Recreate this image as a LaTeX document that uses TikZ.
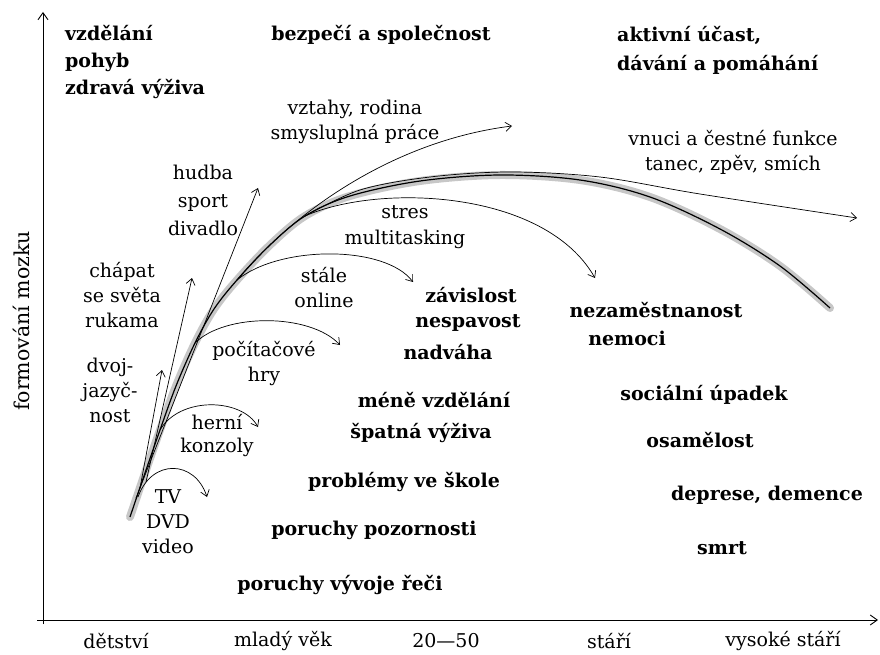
\documentclass[tikz,border=0pt]{standalone}
\usepackage{fontspec}
\setmainfont{DejaVu Serif}
\usetikzlibrary{arrows.meta}
\begin{document}
\begin{tikzpicture}[x=1pt,y=-1pt,
  txt/.style={font=\fontsize{19}{26}\selectfont, inner sep=0pt, align=center},
  btxt/.style={inner sep=0pt, align=center, font=\fontsize{19}{27}\selectfont\bfseries},
  arr/.style={-{Straight Barb[length=6pt,width=9pt]}, line width=0.7pt},
  axisline/.style={-{Straight Barb[length=7pt,width=10pt]}, line width=0.9pt},
  halo/.style={line width=8pt, black!22, line cap=round},
  mainline/.style={line width=1.2pt, black}]
\useasboundingbox (0,0) rectangle (880,655);
% axes
\coordinate (yb) at (43,624);
\coordinate (yt) at (43,12);
\coordinate (xl) at (37,620);
\coordinate (xr) at (878,620);
\draw[axisline] (yb) -- (yt);
\draw[axisline] (xl) -- (xr);
\node[txt, rotate=90, font=\fontsize{20.5}{26}\selectfont] (ylab) at (21,321) {formování mozku};
% x labels
\node[txt] (x1) at (116,641) {dětství};
\node[txt] (x2) at (283,641) {mladý věk};
\node[txt] (x3) at (446,641) {20—50};
\node[txt] (x4) at (609,641) {stáří};
\node[txt] (x5) at (783,641) {vysoké stáří};
% main curve points
\coordinate (m0) at (130,517);
\coordinate (m1) at (145,473);
\coordinate (m2) at (160,430);
\coordinate (m3) at (176,386);
\coordinate (m4) at (195,343);
\coordinate (m5) at (214,309);
\coordinate (m6) at (237,280);
\coordinate (m7) at (270,245);
\coordinate (m8) at (305,216);
\coordinate (m9) at (350,196);
\coordinate (m10) at (420,181);
\coordinate (m11) at (500,175);
\coordinate (m12) at (580,180);
\coordinate (m13) at (650,197);
\coordinate (m14) at (720,229);
\coordinate (m15) at (780,266);
\coordinate (m16) at (830,308);
\draw[halo] plot[smooth, tension=0.55] coordinates {(m0) (m1) (m2) (m3) (m4) (m5) (m6) (m7) (m8) (m9) (m10) (m11) (m12) (m13) (m14) (m15) (m16)};
\draw[mainline] plot[smooth, tension=0.55] coordinates {(m0) (m1) (m2) (m3) (m4) (m5) (m6) (m7) (m8) (m9) (m10) (m11) (m12) (m13) (m14) (m15) (m16)};
% vnuci curve (upper thin)
\coordinate (v1) at (360,190);
\coordinate (v2) at (430,177);
\coordinate (v3) at (510,172);
\coordinate (v4) at (600,177);
\coordinate (v5) at (700,194);
\coordinate (vt) at (857,218);
\draw[arr] plot[smooth, tension=0.55] coordinates {(m8) (v1) (v2) (v3) (v4) (v5) (vt)};
% vztahy arrow
\coordinate (zt) at (512,126);
\draw[arr] (m6) .. controls (300,205) and (400,140) .. (zt);
% straight arrows
\coordinate (s0) at (136,498);
\coordinate (dt) at (162,370);
\coordinate (ct) at (192,278);
\coordinate (ht) at (258,188);
\coordinate (ds) at (140,488);
\coordinate (cs) at (146,482);
\draw[arr] (ds) -- (dt);
\draw[arr] (cs) -- (ct);
\draw[arr] (s0) -- (ht);
% curved branches
\coordinate (tvs) at (138,497);
\coordinate (tvt) at (207,497);
\draw[arr] (tvs) .. controls (152,458) and (195,460) .. (tvt);
\coordinate (hkt) at (258,427);
\draw[arr] (m2) .. controls (180,396) and (242,398) .. (hkt);
\coordinate (pht) at (340,345);
\draw[arr] (m4) .. controls (225,313) and (310,313) .. (pht);
\coordinate (sot) at (413,282);
\draw[arr] (m6) .. controls (280,245) and (385,245) .. (sot);
\coordinate (stt) at (595,278);
\draw[arr] (m8) .. controls (380,183) and (545,190) .. (stt);
% top labels
\node[btxt, anchor=west, align=left] (tl) at (65,62) {vzdělání\\pohyb\\zdravá výživa};
\node[btxt] (tc) at (381,35) {bezpečí a společnost};
\node[btxt, anchor=west, align=left, font=\fontsize{19}{29}\selectfont\bfseries] (tr) at (617,50) {aktivní účast,\\dávání a pomáhání};
% thin labels
\node[txt, font=\fontsize{19}{25}\selectfont] (vz) at (355,122) {vztahy, rodina\\smysluplná práce};
\node[txt, font=\fontsize{19}{25}\selectfont] (vn) at (733,152) {vnuci a čestné funkce\\tanec, zpěv, smích};
\node[txt, font=\fontsize{19}{28}\selectfont] (hu) at (203,200) {hudba\\sport\\divadlo};
\node[txt] (st) at (405,227) {stres\\multitasking};
\node[txt, font=\fontsize{19}{25}\selectfont] (ch) at (122,295) {chápat\\se světa\\rukama};
\node[txt, font=\fontsize{19}{25}\selectfont] (so) at (324,288) {stále\\online};
\node[txt, font=\fontsize{19}{25}\selectfont] (dv) at (110,390) {dvoj-\\jazyč-\\nost};
\node[txt, font=\fontsize{19}{25}\selectfont] (pc) at (264,364) {počítačové\\hry};
\node[txt, font=\fontsize{19}{23}\selectfont] (hk) at (217,436) {herní\\konzoly};
\node[txt, font=\fontsize{19}{25}\selectfont] (tv) at (168,522) {TV\\DVD\\video};
% bold labels
\node[btxt] (za) at (471,295) {závislost};
\node[btxt] (ns) at (468,323) {nespavost};
\node[btxt] (nd) at (448,352) {nadváha};
\node[btxt] (ne) at (656,310) {nezaměstnanost};
\node[btxt] (nm) at (627,338) {nemoci};
\node[btxt] (me) at (434,400) {méně vzdělání};
\node[btxt] (sp) at (421,433) {špatná výživa};
\node[btxt] (pr) at (404,482) {problémy ve škole};
\node[btxt] (pp) at (374,530) {poruchy pozornosti};
\node[btxt] (pv) at (340,585) {poruchy vývoje řeči};
\node[btxt] (su) at (704,395) {sociální úpadek};
\node[btxt] (os) at (700,440) {osamělost};
\node[btxt] (de) at (767,495) {deprese, demence};
\node[btxt] (sm) at (722,548) {smrt};
\end{tikzpicture}
\end{document}
